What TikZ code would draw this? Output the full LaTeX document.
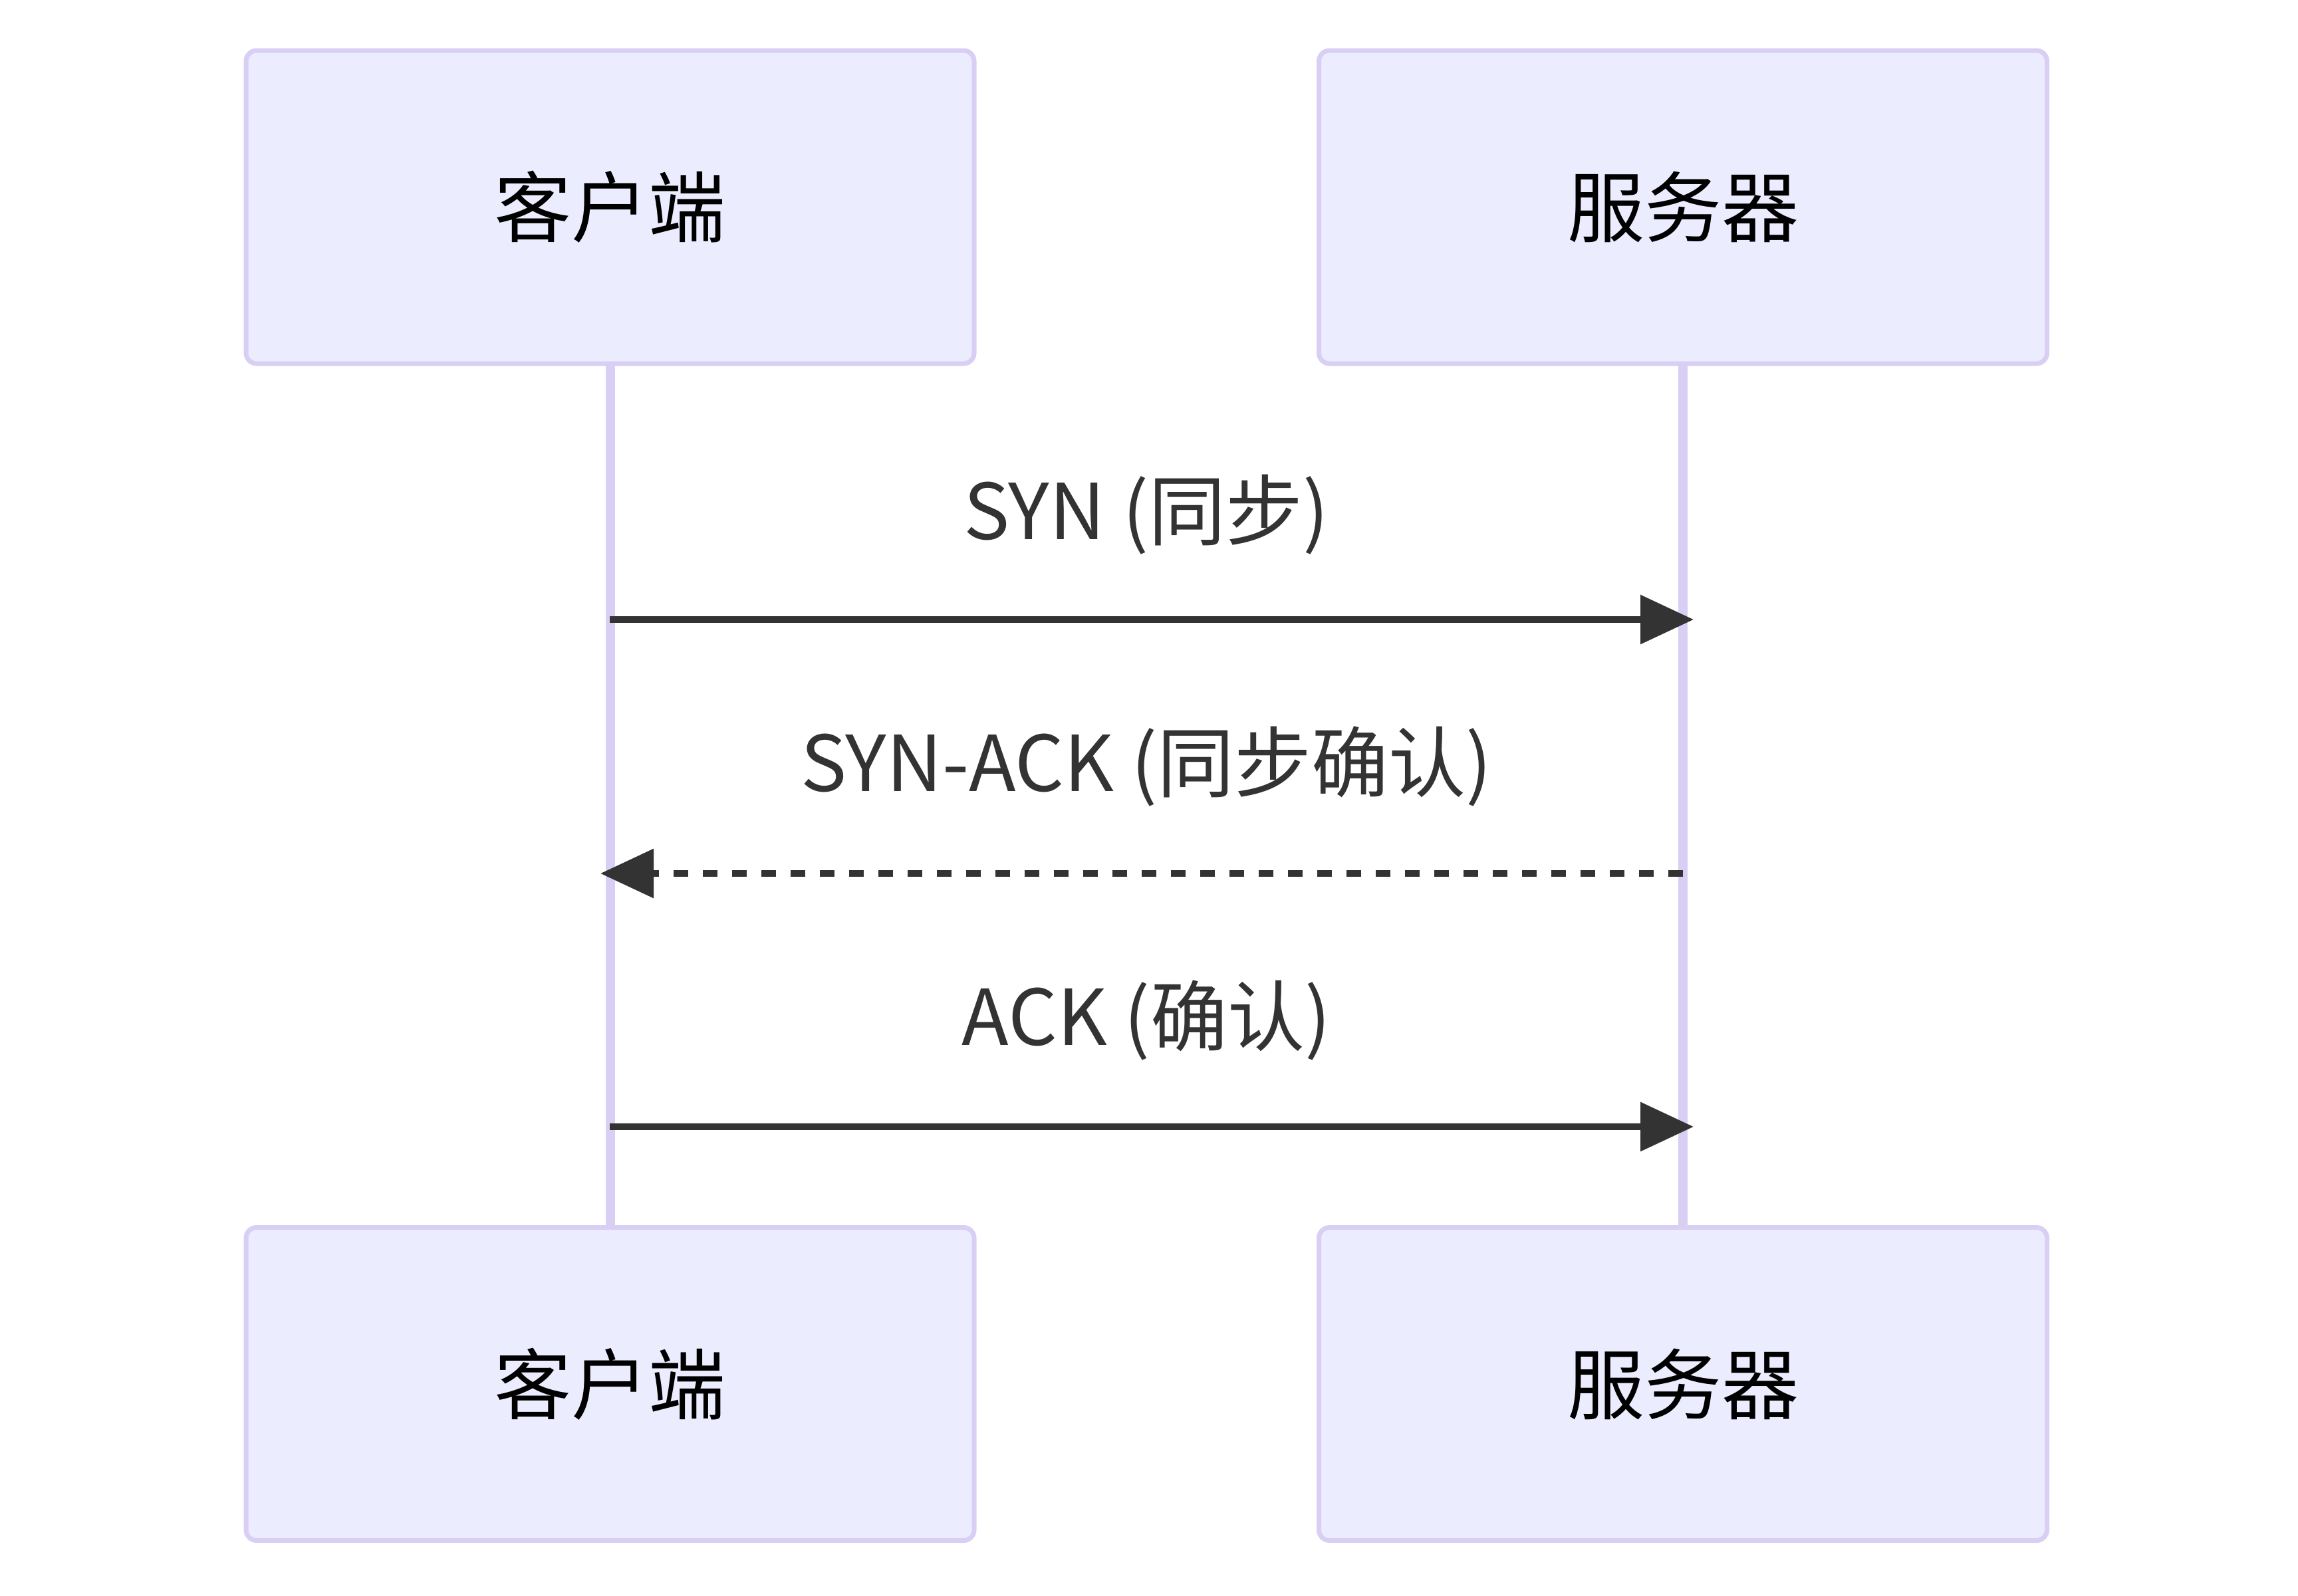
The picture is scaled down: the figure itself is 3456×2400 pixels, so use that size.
\documentclass[tikz,border=0pt]{standalone}
\usepackage{fontspec}
\setmainfont{Noto Sans CJK SC}
\usetikzlibrary{arrows.meta}
\definecolor{actfill}{HTML}{ECECFF}
\definecolor{actline}{HTML}{D9CEF3}
\definecolor{msg}{HTML}{333333}
\begin{document}
\begin{tikzpicture}[x=0.25pt,y=-0.25pt,
 actor/.style={draw=actline, line width=1.75pt, fill=actfill, rounded corners=4pt,
   minimum width=273.75pt, minimum height=117.75pt, inner sep=0pt,
   font=\fontsize{29}{34}\selectfont, text=black},
 lifeline/.style={draw=actline, line width=3.5pt},
 msgline/.style={draw=msg, line width=2.5pt, -{Triangle[length=20pt,width=18pt]}},
 msgdash/.style={msgline, dash pattern=on 5.5pt off 5.5pt},
 msglabel/.style={anchor=base, text=msg, inner sep=0pt, font=\fontsize{29}{34}\selectfont}]
\useasboundingbox (0,0) rectangle (3456,2400);
\fill[white] (0,0) rectangle (3456,2400);
\coordinate (ctc) at (917.5,311.5);
\coordinate (cbc) at (917.5,2082);
\coordinate (stc) at (2531,311.5);
\coordinate (sbc) at (2531,2082);
\draw[lifeline] (ctc) -- (cbc);
\draw[lifeline] (stc) -- (sbc);
\node[actor] (ct) at (ctc) {客户端};
\node[actor] (st) at (stc) {服务器};
\node[actor] (cb) at (cbc) {客户端};
\node[actor] (sb) at (sbc) {服务器};
\coordinate (c1) at (917,932);
\coordinate (s1) at (2547,932);
\coordinate (s2) at (2531,1314);
\coordinate (c2) at (903,1314);
\coordinate (c3) at (917,1695);
\coordinate (s3) at (2547,1695);
\node[msglabel] (l1) at (1724,811) {SYN (同步)};
\node[msglabel] (l2) at (1724,1190) {SYN-ACK (同步确认)};
\node[msglabel] (l3) at (1724,1572) {ACK (确认)};
\draw[msgline] (c1) -- (s1);
\draw[msgdash] (s2) -- (c2);
\draw[msgline] (c3) -- (s3);
\end{tikzpicture}
\end{document}
